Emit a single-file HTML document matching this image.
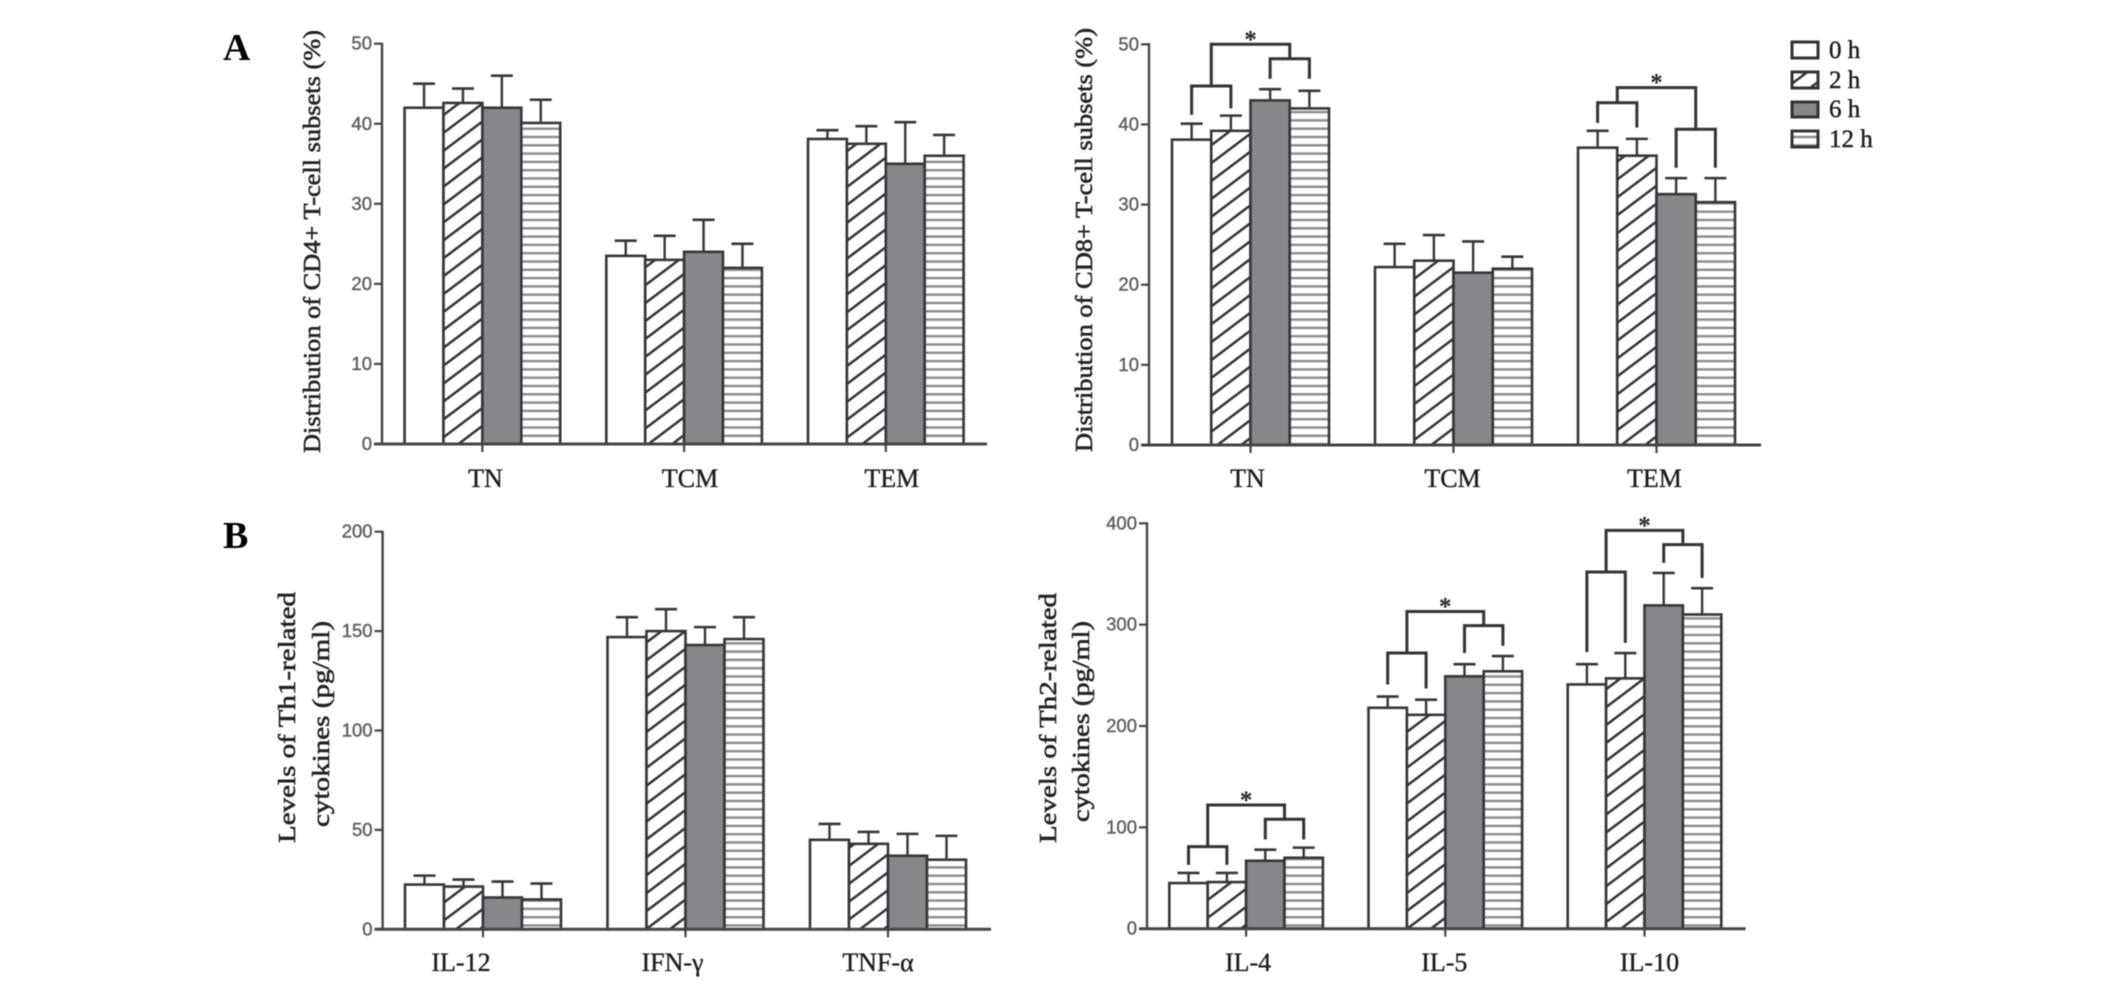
<!DOCTYPE html>
<html lang="en">
<head>
<meta charset="utf-8">
<title>T-cell subsets and cytokine levels</title>
<style>
  html, body { margin: 0; padding: 0; background: #fff; }
  body { width: 2126px; height: 986px; overflow: hidden; }
  svg { display: block; filter: blur(0.6px); }
  .serif { font-family: "Liberation Serif", serif; fill: #222; }
  .tick { font-family: "Liberation Sans", sans-serif; font-size: 18.5px; fill: #5e5e5e; stroke: #5e5e5e; stroke-width: 0.4px; text-anchor: end; }
  .cat { font-family: "Liberation Serif", serif; font-size: 26px; fill: #1c1c1c; stroke: #1c1c1c; stroke-width: 0.35px; text-anchor: middle; }
  .ytitle { font-family: "Liberation Serif", serif; font-size: 24px; fill: #222; stroke: #222; stroke-width: 0.55px; }
  .letter { font-family: "Liberation Serif", serif; font-size: 38px; font-weight: bold; fill: #000; }
  .legend-text { font-family: "Liberation Serif", serif; font-size: 25px; fill: #1c1c1c; stroke: #1c1c1c; stroke-width: 0.45px; }
</style>
</head>
<body>
<svg id="figure" xmlns="http://www.w3.org/2000/svg" width="2126" height="986" viewBox="0 0 2126 986">
  <defs>
    <pattern id="hatch" patternUnits="userSpaceOnUse" width="10" height="14.3" patternTransform="rotate(-37)">
      <rect width="10" height="14.3" fill="#fff"/>
      <rect y="0" width="10" height="2.5" fill="#333"/>
    </pattern>
    <pattern id="stripes" patternUnits="userSpaceOnUse" width="10" height="8.3">
      <rect width="10" height="8.3" fill="#fff"/>
      <rect y="3" width="10" height="2.4" fill="#8c8c8c"/>
    </pattern>
  </defs>

  <text class="letter" x="223" y="60">A</text>
  <text class="letter" x="223" y="548">B</text>

  <text class="ytitle" transform="translate(320,453) rotate(-90)" textLength="423" lengthAdjust="spacingAndGlyphs">Distribution of CD4+ T-cell subsets (%)</text>
  <text class="ytitle" transform="translate(1092,452) rotate(-90)" textLength="424" lengthAdjust="spacingAndGlyphs">Distribution of CD8+ T-cell subsets (%)</text>
  <text class="ytitle" transform="translate(295,843) rotate(-90)" textLength="251" lengthAdjust="spacingAndGlyphs">Levels of Th1-related</text>
  <text class="ytitle" transform="translate(329,827) rotate(-90)" textLength="206" lengthAdjust="spacingAndGlyphs">cytokines (pg/ml)</text>
  <text class="ytitle" transform="translate(1056,843) rotate(-90)" textLength="250" lengthAdjust="spacingAndGlyphs">Levels of Th2-related</text>
  <text class="ytitle" transform="translate(1089,822) rotate(-90)" textLength="201" lengthAdjust="spacingAndGlyphs">cytokines (pg/ml)</text>

  <g>
    <rect x="1792" y="42" width="26" height="16" fill="#fff" stroke="#333" stroke-width="3"/>
    <text class="legend-text" x="1829" y="58">0 h</text>
    <rect x="1792" y="72" width="26" height="16" fill="url(#hatch)" stroke="#333" stroke-width="3"/>
    <text class="legend-text" x="1829" y="88">2 h</text>
    <rect x="1792" y="102" width="26" height="15" fill="#85878a" stroke="#333" stroke-width="3"/>
    <text class="legend-text" x="1829" y="117">6 h</text>
    <rect x="1792" y="131" width="26" height="16" fill="url(#stripes)" stroke="#333" stroke-width="3"/>
    <text class="legend-text" x="1829" y="147">12 h</text>
  </g>
</svg>

<script>
// Chart data: each inner array is one category, holding the 0 h, 2 h, 6 h, 12 h values.
const cd4Categories = ['TN', 'TCM', 'TEM'];
const cd4Means = [[42, 42.6, 42, 40.1], [23.5, 23, 24, 22], [38.1, 37.5, 35, 36]];
const cd4ErrorTops = [[45, 44.4, 46, 43], [25.4, 26, 28, 25], [39.2, 39.7, 40.2, 38.6]];
const cd4Ticks = [0, 10, 20, 30, 40, 50];

const cd8Categories = ['TN', 'TCM', 'TEM'];
const cd8Means = [[38.1, 39.2, 43, 42], [22.2, 23, 21.5, 22], [37.1, 36.1, 31.3, 30.3]];
const cd8ErrorTops = [[40.1, 41.1, 44.4, 44.2], [25.1, 26.2, 25.4, 23.5], [39.2, 38.2, 33.3, 33.3]];
const cd8Ticks = [0, 10, 20, 30, 40, 50];
const cd8Brackets = [
  { group: 0, top: 50, left: 44.8, right: 48.2, legEnds: [41.2, 42, 45.7, 45.7] },
  { group: 2, top: 44.6, left: 42.7, right: 39.4, legEnds: [40.2, 39.6, 34.6, 34.6] }
];

const th1Categories = ['IL-12', 'IFN-γ', 'TNF-α'];
const th1Means = [[22.5, 21.5, 16, 15], [147, 150, 143, 146], [45, 43, 37, 35]];
const th1ErrorTops = [[27, 25, 24, 23], [157, 161, 152, 157], [53, 49, 48, 47]];
const th1Ticks = [0, 50, 100, 150, 200];

const th2Categories = ['IL-4', 'IL-5', 'IL-10'];
const th2Means = [[45, 46, 67, 70], [218, 211, 249, 254], [241, 247, 319, 310]];
const th2ErrorTops = [[55, 55, 78, 80], [229, 226, 261, 269], [261, 272, 351, 336]];
const th2Ticks = [0, 100, 200, 300, 400];
const th2Brackets = [
  { group: 0, top: 122, left: 81, right: 108, legEnds: [63, 63, 88, 88] },
  { group: 1, top: 313, left: 272, right: 299, legEnds: [241, 237, 272, 279] },
  { group: 2, top: 393, left: 352, right: 379, legEnds: [273, 282, 361, 346] }
];

const seriesFills = ['#ffffff', 'url(#hatch)', '#85878a', 'url(#stripes)'];
const seriesNames = ['0h', '2h', '6h', '12h'];

const NS = 'http://www.w3.org/2000/svg';
const STROKE = '#363636';
const svg = document.getElementById('figure');

function shape(parent, tag, attrs) {
  const el = document.createElementNS(NS, tag);
  for (const k in attrs) el.setAttribute(k, attrs[k]);
  parent.appendChild(el);
  return el;
}

function drawPanel(cfg) {
  const g = shape(svg, 'g', {});
  
  

  const yMax = cfg.ticks[cfg.ticks.length - 1];
  const yScale = v => cfg.y0 - (v / yMax) * (cfg.y0 - cfg.yTop);
  const barLeft = (group, i) => cfg.x0 + group * cfg.groupStep + i * cfg.barW;
  const barCenter = (group, i) => barLeft(group, i) + cfg.barW / 2;

  cfg.means.forEach((groupVals, group) => {
    groupVals.forEach((v, i) => {
      const cx = barCenter(group, i);
      const top = cfg.tops[group][i];

      const stem = shape(g, 'line', { x1: cx, x2: cx, y1: yScale(v), y2: yScale(top), stroke: STROKE, 'stroke-width': 2.4 });
      
      

      const cap = shape(g, 'line', { x1: cx - 11, x2: cx + 11, y1: yScale(top), y2: yScale(top), stroke: STROKE, 'stroke-width': 2.6 });
      
      

      const bar = shape(g, 'rect', {
        x: barLeft(group, i), y: yScale(v), width: cfg.barW, height: yScale(0) - yScale(v),
        fill: seriesFills[i], stroke: STROKE, 'stroke-width': 2.6
      });
      
      
    });
  });

  (cfg.brackets || []).forEach((b, n) => {
    const c = i => barCenter(b.group, i);
    const midL = (c(0) + c(1)) / 2;
    const midR = (c(2) + c(3)) / 2;
    const d = 'M' + c(0) + ' ' + yScale(b.legEnds[0]) + ' V' + yScale(b.left) + ' H' + c(1) + ' V' + yScale(b.legEnds[1]) +
      ' M' + c(2) + ' ' + yScale(b.legEnds[2]) + ' V' + yScale(b.right) + ' H' + c(3) + ' V' + yScale(b.legEnds[3]) +
      ' M' + midL + ' ' + yScale(b.left) + ' V' + yScale(b.top) + ' H' + midR + ' V' + yScale(b.right);
    const path = shape(g, 'path', { d: d, fill: 'none', stroke: '#333', 'stroke-width': 3 });
    
    

    const star = shape(g, 'text', { x: (midL + midR) / 2, y: yScale(b.top) + 3, 'text-anchor': 'middle', class: 'serif', 'font-size': 25, 'font-weight': 'bold' });
    star.textContent = '*';
    
    
  });

  const yAxis = shape(g, 'line', { x1: cfg.axisX, x2: cfg.axisX, y1: yScale(yMax) - 1, y2: yScale(0), stroke: '#444', 'stroke-width': 2.4 });
  
  

  const xAxis = shape(g, 'line', { x1: cfg.axisX - 8, x2: cfg.axisEnd, y1: yScale(0), y2: yScale(0), stroke: '#444', 'stroke-width': 3 });
  
  

  cfg.ticks.forEach(t => {
    const tm = shape(g, 'line', { x1: cfg.axisX - 8, x2: cfg.axisX, y1: yScale(t), y2: yScale(t), stroke: '#444', 'stroke-width': 2.2 });
    
    

    const lab = shape(g, 'text', { x: cfg.axisX - 10, y: yScale(t) + 6, class: 'tick' });
    lab.textContent = String(t);
    
    
  });

  cfg.categories.forEach((name, group) => {
    const tx = barLeft(group, 2);
    const tm = shape(g, 'line', { x1: tx, x2: tx, y1: yScale(0), y2: yScale(0) + 8, stroke: '#444', 'stroke-width': 2.2 });
    
    

    const lab = shape(g, 'text', { x: tx + cfg.labelShift[group], y: cfg.labelY, class: 'cat' });
    lab.textContent = name;
    
    
  });
}

drawPanel({ id: 'cd4', categories: cd4Categories, means: cd4Means, tops: cd4ErrorTops, ticks: cd4Ticks,
  axisX: 382, axisEnd: 987, yTop: 43.7, y0: 444, x0: 404.6, groupStep: 201.7, barW: 38.9, labelY: 487, labelShift: [3, 6, 6] });
drawPanel({ id: 'cd8', categories: cd8Categories, means: cd8Means, tops: cd8ErrorTops, ticks: cd8Ticks, brackets: cd8Brackets,
  axisX: 1149, axisEnd: 1761, yTop: 44.3, y0: 445, x0: 1172, groupStep: 203, barW: 39.25, labelY: 487, labelShift: [-3, -1, -2] });
drawPanel({ id: 'th1', categories: th1Categories, means: th1Means, tops: th1ErrorTops, ticks: th1Ticks,
  axisX: 382.6, axisEnd: 991, yTop: 531.7, y0: 929.3, x0: 405, groupStep: 202.5, barW: 39, labelY: 971, labelShift: [-22, -13, -10] });
drawPanel({ id: 'th2', categories: th2Categories, means: th2Means, tops: th2ErrorTops, ticks: th2Ticks, brackets: th2Brackets,
  axisX: 1147, axisEnd: 1745.6, yTop: 523.3, y0: 928.7, x0: 1169.3, groupStep: 199.2, barW: 38.4, labelY: 971, labelShift: [2, -1, 5] });
</script>
</body>
</html>
